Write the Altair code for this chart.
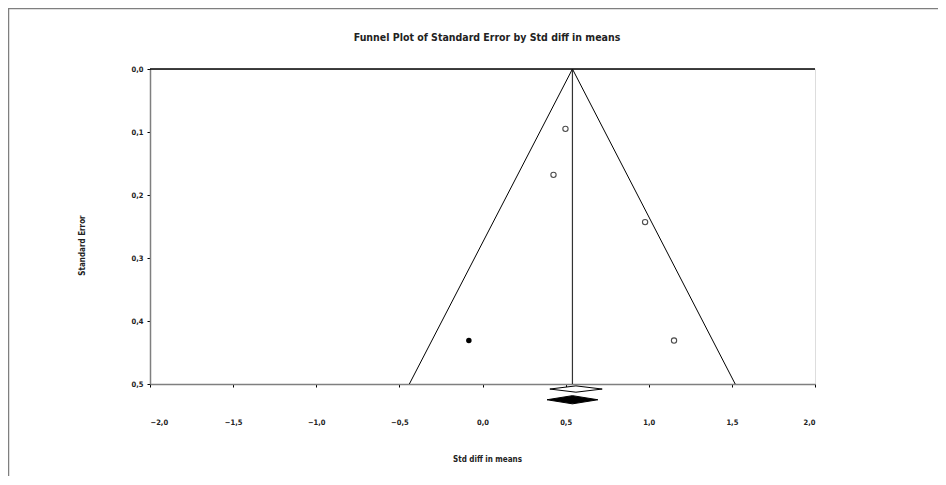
import altair as alt
import pandas as pd

TITLE = "Funnel Plot of Standard Error by Std diff in means"

# Observed studies (open circles)
obs_effect = [0.499, 0.427, 0.978, 1.152]
obs_se = [0.095, 0.168, 0.243, 0.431]
# Imputed study (filled circle)
imp_effect = [-0.082]
imp_se = [0.431]

# Funnel (pooled mean and 95% limits at SE = 0.5)
funnel_x = [-0.44, 0.541, 1.52]
funnel_y = [0.5, 0.0, 0.5]
pooled_mean = 0.541

# Summary diamonds: [lower, point, upper], y position and half-height (SE units)
obs_diamond = [0.405, 0.562, 0.720]
obs_diamond_y = 0.508
obs_diamond_h = 0.005
adj_diamond = [0.388, 0.541, 0.694]
adj_diamond_y = 0.525
adj_diamond_h = 0.0065

x_ticks = [-2.0, -1.5, -1.0, -0.5, 0.0, 0.5, 1.0, 1.5, 2.0]
y_ticks = [0.0, 0.1, 0.2, 0.3, 0.4, 0.5]

FONT = "Liberation Sans Narrow, DejaVu Sans Condensed, Liberation Sans"
GRAY = "#7f7f7f"
label_expr = "replace(format(datum.value, '.1f'), '.', ',')"

xs = alt.Scale(domain=[-2, 2], nice=False, zero=False)
ys = alt.Scale(domain=[0, 0.5], nice=False, zero=False, reverse=True)

x_axis = alt.Axis(values=x_ticks, labelExpr=label_expr, grid=False, tickSize=3,
                  tickColor="black", domainColor=GRAY, domainWidth=1.5,
                  labelPadding=31, labelFont=FONT, labelFontSize=7.5,
                  labelFontWeight="bold", labelColor="#222",
                  title="Std diff in means", titleFont=FONT, titleFontSize=8,
                  titleFontWeight="bold", titleColor="#222",
                  titleX=337, titleY=75, titleBaseline="middle")
y_axis = alt.Axis(values=y_ticks, labelExpr=label_expr, grid=False, tickSize=3,
                  tickColor="black", domainColor=GRAY, domainWidth=1.5,
                  labelPadding=4, labelFont=FONT, labelFontSize=7.5,
                  labelFontWeight="bold", labelColor="#222",
                  title="Standard Error", titleFont=FONT, titleFontSize=8,
                  titleFontWeight="bold", titleColor="#222",
                  titleX=-68, titleY=176, titleAngle=-90, titleBaseline="middle")

funnel_df = pd.DataFrame({"x": funnel_x, "y": funnel_y, "o": [0, 1, 2]})
funnel = alt.Chart(funnel_df).mark_line(color="black", strokeWidth=1).encode(
    x=alt.X("x:Q", scale=xs, axis=x_axis),
    y=alt.Y("y:Q", scale=ys, axis=y_axis),
    order="o:O",
)

vline = alt.Chart(pd.DataFrame({"x": [pooled_mean], "y": [0.0], "y2": [0.5]})).mark_rule(
    color="#333", strokeWidth=1.2).encode(x=alt.X("x:Q", scale=xs), y=alt.Y("y:Q", scale=ys), y2="y2:Q")

top_line = alt.Chart(pd.DataFrame({"x": [-2.0], "x2": [2.0], "y": [0.0]})).mark_rule(
    color="black", strokeWidth=1.5).encode(x=alt.X("x:Q", scale=xs), x2="x2:Q", y=alt.Y("y:Q", scale=ys))

obs_df = pd.DataFrame({"x": obs_effect, "y": obs_se})
obs_pts = alt.Chart(obs_df).mark_point(shape="circle", filled=False, color="black",
                                       size=28, strokeWidth=1.1).encode(
    x=alt.X("x:Q", scale=xs), y=alt.Y("y:Q", scale=ys))

imp_df = pd.DataFrame({"x": imp_effect, "y": imp_se})
imp_pts = alt.Chart(imp_df).mark_point(shape="circle", filled=True, color="black",
                                       opacity=1, size=30).encode(
    x=alt.X("x:Q", scale=xs), y=alt.Y("y:Q", scale=ys))


def diamond(vals, yc, h, filled):
    df = pd.DataFrame({
        "x": vals,
        "y": [yc, yc - h, yc],
        "y2": [yc, yc + h, yc],
    })
    return alt.Chart(df).mark_area(
        fill="black" if filled else "white", stroke="black", strokeWidth=1,
        clip=False, interpolate="linear", opacity=1,
    ).encode(x=alt.X("x:Q", scale=xs), y=alt.Y("y:Q", scale=ys), y2="y2:Q")


d_obs = diamond(obs_diamond, obs_diamond_y, obs_diamond_h, False)
d_adj = diamond(adj_diamond, adj_diamond_y, adj_diamond_h, True)

# chart title as a text mark (figure-style header)
title_mark = alt.Chart(pd.DataFrame({"t": [TITLE]})).mark_text(
    font=FONT, fontSize=10.5, fontWeight="bold", color="#222",
    align="center", baseline="middle", clip=False,
).encode(x=alt.value(337), y=alt.value(-31), text="t:N")

# outer frame of the figure (top and left edges)
frame_top = alt.Chart(pd.DataFrame({"a": [0]})).mark_rule(color=GRAY, strokeWidth=1.5, clip=False).encode(
    x=alt.value(-142), x2=alt.value(800), y=alt.value(-60.5))
frame_left = alt.Chart(pd.DataFrame({"a": [0]})).mark_rule(color=GRAY, strokeWidth=1.5, clip=False).encode(
    x=alt.value(-141.5), y=alt.value(-61), y2=alt.value(420))

chart = alt.layer(
    frame_top, frame_left, title_mark, funnel, vline, top_line, obs_pts, imp_pts, d_obs, d_adj
).properties(
    width=665, height=315,
    padding={"left": 142, "top": 61, "right": 123, "bottom": 92},
    autosize=alt.AutoSizeParams(type="none"),
).configure_view(
    stroke=GRAY, strokeWidth=1.5
).configure(background="white")

chart.save("out.html", embed_options={"renderer": "svg", "actions": False})
